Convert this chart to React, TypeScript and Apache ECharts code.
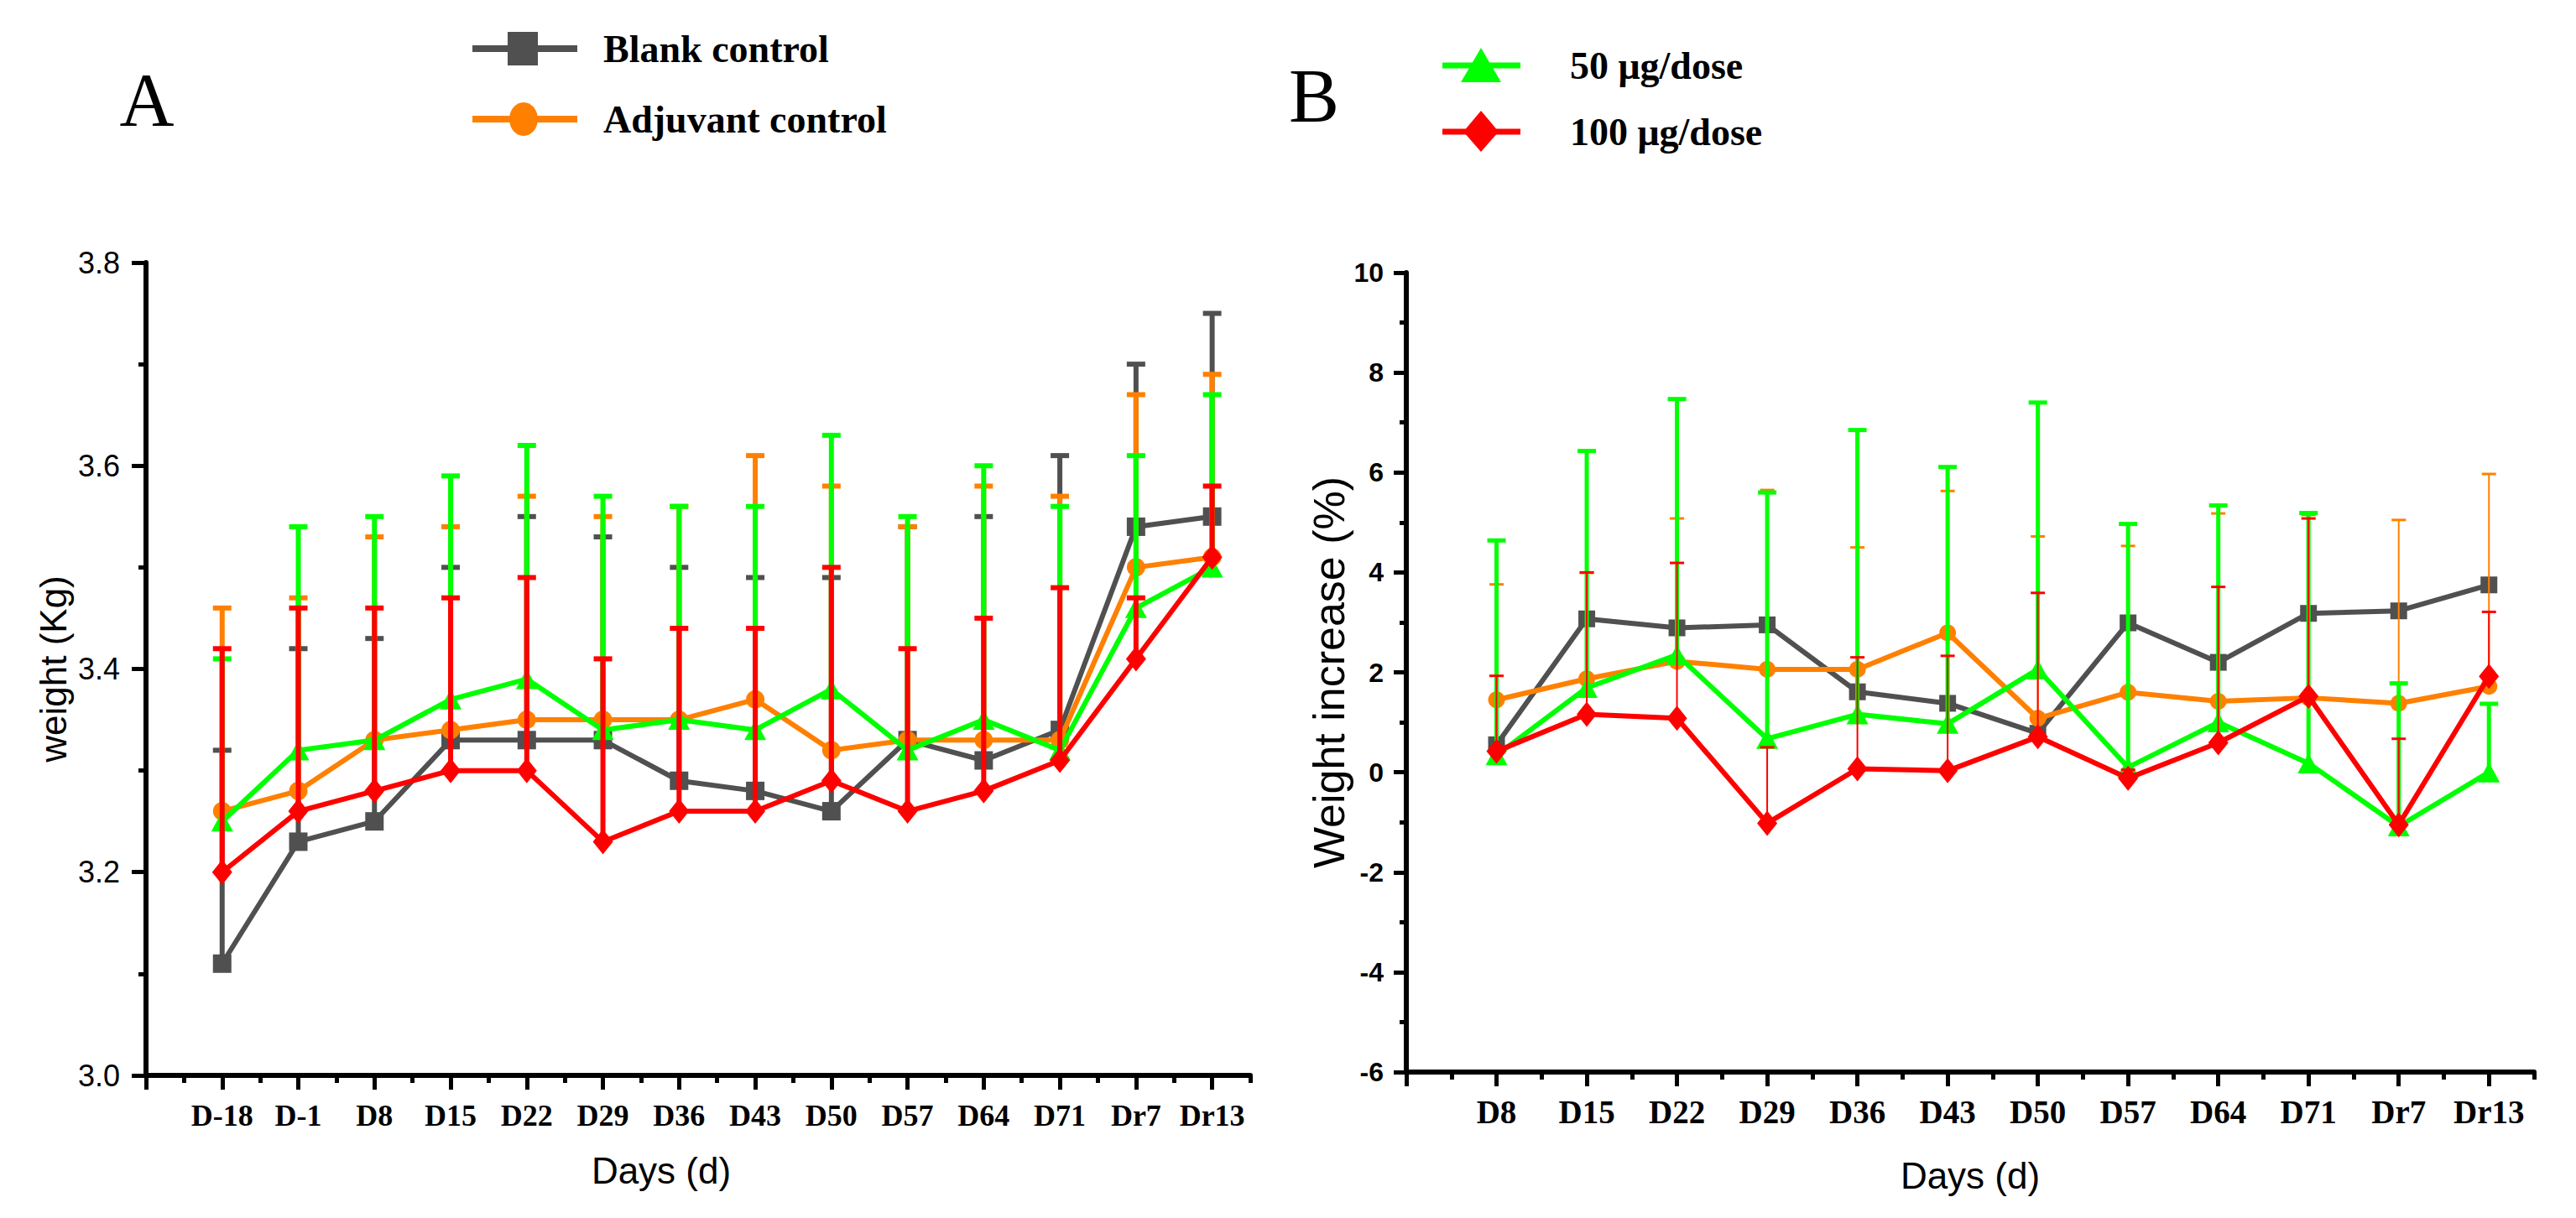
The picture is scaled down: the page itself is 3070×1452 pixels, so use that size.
import React, { useEffect, useRef } from 'react';
import * as echarts from 'echarts';

// ---------- Panel A data (weight, Kg) ----------
const catsA = ['D-18', 'D-1', 'D8', 'D15', 'D22', 'D29', 'D36', 'D43', 'D50', 'D57', 'D64', 'D71', 'Dr7', 'Dr13'];
const blankA = [3.11, 3.23, 3.25, 3.33, 3.33, 3.33, 3.29, 3.28, 3.26, 3.33, 3.31, 3.34, 3.54, 3.55];
const blankATop = [3.32, 3.42, 3.43, 3.50, 3.55, 3.53, 3.50, 3.49, 3.49, 3.54, 3.55, 3.61, 3.70, 3.75];
const adjA = [3.26, 3.28, 3.33, 3.34, 3.35, 3.35, 3.35, 3.37, 3.32, 3.33, 3.33, 3.33, 3.50, 3.51];
const adjATop = [3.46, 3.47, 3.53, 3.54, 3.57, 3.55, 3.56, 3.61, 3.58, 3.54, 3.58, 3.57, 3.67, 3.69];
const d50A = [3.25, 3.32, 3.33, 3.37, 3.39, 3.34, 3.35, 3.34, 3.38, 3.32, 3.35, 3.32, 3.46, 3.50];
const d50ATop = [3.41, 3.54, 3.55, 3.59, 3.62, 3.57, 3.56, 3.56, 3.63, 3.55, 3.60, 3.56, 3.61, 3.67];
const d100A = [3.20, 3.26, 3.28, 3.30, 3.30, 3.23, 3.26, 3.26, 3.29, 3.26, 3.28, 3.31, 3.41, 3.51];
const d100ATop = [3.42, 3.46, 3.46, 3.47, 3.49, 3.41, 3.44, 3.44, 3.50, 3.42, 3.45, 3.48, 3.47, 3.58];

// ---------- Panel B data (weight increase, %) ----------
const catsB = ['D8', 'D15', 'D22', 'D29', 'D36', 'D43', 'D50', 'D57', 'D64', 'D71', 'Dr7', 'Dr13'];
const blankB = [0.55, 3.07, 2.89, 2.95, 1.61, 1.38, 0.78, 2.99, 2.20, 3.18, 3.23, 3.75];
const adjB = [1.45, 1.87, 2.22, 2.06, 2.06, 2.79, 1.08, 1.60, 1.42, 1.49, 1.38, 1.72];
const adjBTop = [3.76, 3.99, 5.08, 5.65, 4.50, 5.63, 4.72, 4.53, 5.18, 5.15, 5.05, 5.97];
const d50B = [0.34, 1.69, 2.35, 0.67, 1.16, 0.97, 2.06, 0.10, 1.00, 0.18, -1.08, 0.00];
const d50BTop = [4.64, 6.43, 7.47, 5.60, 6.85, 6.11, 7.40, 4.97, 5.34, 5.19, 1.78, 1.37];
const d100B = [0.42, 1.16, 1.08, -1.02, 0.07, 0.03, 0.71, -0.12, 0.59, 1.52, -1.05, 1.92];
const d100BTop = [1.93, 4.00, 4.19, 0.50, 2.30, 2.33, 3.59, 0.05, 3.71, 5.08, 0.67, 3.21];

const yTicksA = [3.0, 3.2, 3.4, 3.6, 3.8];
const yTicksB = [-6, -4, -2, 0, 2, 4, 6, 8, 10];

const names = ['Blank control', 'Adjuvant control', '50 μg/dose', '100 μg/dose'];
const colors = ['#505050', '#FF8000', '#00FF00', '#FF0000'];

const SANS = '"Liberation Sans", Arial, sans-serif';
const SERIF = '"Liberation Serif", "Times New Roman", serif';

const errRender = (color: string, lw: number, cap: number, capLw: number) => (params: any, api: any) => {
  const x = api.value(0);
  const m = api.value(1);
  const t = api.value(2);
  const p0 = api.coord([x, m]);
  const p1 = api.coord([x, t]);
  return {
    type: 'group',
    children: [
      { type: 'line', shape: { x1: p0[0], y1: p0[1], x2: p1[0], y2: p1[1] }, style: { stroke: color, lineWidth: lw } },
      { type: 'line', shape: { x1: p1[0] - cap / 2, y1: p1[1], x2: p1[0] + cap / 2, y2: p1[1] }, style: { stroke: color, lineWidth: capLw } },
    ],
  };
};

export default function App() {
  const ref = useRef<HTMLDivElement>(null);

  useEffect(() => {
    if (!ref.current) return;
    const chart = echarts.init(ref.current, null, { renderer: 'svg' });

    const majorA = Array.from({ length: catsA.length + 1 }, (_, i) => i);
    const minorA = Array.from({ length: catsA.length + 1 }, (_, i) => i + 0.5);
    const majorB = Array.from({ length: catsB.length + 1 }, (_, i) => i);
    const minorB = Array.from({ length: catsB.length + 1 }, (_, i) => i + 0.5);

    const axisLine = { show: true, onZero: false, lineStyle: { color: '#000', width: 6 } };
    const hiddenLine = { show: false, onZero: false };
    const tickStyle = { color: '#000', width: 5 };

    const xBase = (grid: number, max: number) => ({
      type: 'value',
      gridIndex: grid,
      min: 0,
      max,
      position: 'bottom',
      splitLine: { show: false },
    });

    const mkLine = (grid: number, xs: number[], vals: number[], k: number, symbol: string, size: any) => ({
      type: 'line',
      name: names[k],
      xAxisIndex: grid === 0 ? 0 : 2,
      yAxisIndex: grid,
      data: vals.map((v, i) => [xs[i], v]),
      symbol,
      symbolSize: size,
      showSymbol: true,
      lineStyle: { color: colors[k], width: 6 },
      itemStyle: { color: colors[k] },
      z: 3 + 2 * k,
    });

    const mkErr = (grid: number, xs: number[], vals: number[], tops: number[], k: number, lw: number, cap: number, capLw: number) => ({
      type: 'custom',
      name: names[k] + ' err',
      xAxisIndex: grid === 0 ? 0 : 2,
      yAxisIndex: grid,
      data: vals.map((v, i) => [xs[i], v, tops[i]]),
      encode: { x: 0, y: [1, 2] },
      renderItem: errRender(colors[k], lw, cap, capLw),
      z: 2 + 2 * k,
    });

    const xsA = catsA.map((_, i) => i + 1);
    const xsB = catsB.map((_, i) => i + 1);

    const option: any = {
      animation: false,
      backgroundColor: '#fff',
      grid: [
        { left: 174, top: 313, width: 1316, height: 969 },
        { left: 1676, top: 325, width: 1344, height: 953 },
      ],
      xAxis: [
        {
          ...xBase(0, 14.5),
          axisLine,
          axisTick: { show: true, inside: false, length: 17, lineStyle: tickStyle, customValues: majorA },
          axisLabel: {
            show: true,
            customValues: xsA,
            formatter: (v: number) => catsA[Math.round(v) - 1] ?? '',
            fontFamily: SERIF,
            fontWeight: 'bold',
            fontSize: 36,
            color: '#000',
            margin: 30,
          },
          name: 'Days (d)',
          nameLocation: 'middle',
          nameGap: 91,
          nameTextStyle: { fontFamily: SANS, fontSize: 44, color: '#000', padding: [0, 88, 0, 0] },
        },
        {
          ...xBase(0, 14.5),
          axisLine: hiddenLine,
          axisTick: { show: true, inside: false, length: 9, lineStyle: tickStyle, customValues: minorA },
          axisLabel: { show: false },
        },
        {
          ...xBase(1, 12.5),
          axisLine,
          axisTick: { show: true, inside: false, length: 17, lineStyle: tickStyle, customValues: majorB },
          axisLabel: {
            show: true,
            customValues: xsB,
            formatter: (v: number) => catsB[Math.round(v) - 1] ?? '',
            fontFamily: SERIF,
            fontWeight: 'bold',
            fontSize: 39,
            color: '#000',
            margin: 28,
          },
          name: 'Days (d)',
          nameLocation: 'middle',
          nameGap: 101,
          nameTextStyle: { fontFamily: SANS, fontSize: 44, color: '#000' },
        },
        {
          ...xBase(1, 12.5),
          axisLine: hiddenLine,
          axisTick: { show: true, inside: false, length: 9, lineStyle: tickStyle, customValues: minorB },
          axisLabel: { show: false },
        },
      ],
      yAxis: [
        {
          type: 'value',
          gridIndex: 0,
          min: yTicksA[0],
          max: yTicksA[yTicksA.length - 1],
          interval: 0.2,
          axisLine,
          axisTick: { show: true, inside: false, length: 17, lineStyle: tickStyle },
          minorTick: { show: true, splitNumber: 2, length: 9, lineStyle: tickStyle },
          splitLine: { show: false },
          axisLabel: { formatter: (v: number) => v.toFixed(1), fontFamily: SANS, fontSize: 36, color: '#000', margin: 31 },
          name: 'weight (Kg)',
          nameLocation: 'middle',
          nameGap: 89,
          nameTextStyle: { fontFamily: SANS, fontSize: 44, color: '#000' },
        },
        {
          type: 'value',
          gridIndex: 1,
          min: yTicksB[0],
          max: yTicksB[yTicksB.length - 1],
          interval: 2,
          axisLine,
          axisTick: { show: true, inside: false, length: 15, lineStyle: tickStyle },
          minorTick: { show: true, splitNumber: 2, length: 8, lineStyle: tickStyle },
          splitLine: { show: false },
          axisLabel: { fontFamily: SANS, fontWeight: 'bold', fontSize: 32, color: '#000', margin: 27 },
          name: 'Weight increase (%)',
          nameLocation: 'middle',
          nameGap: 52,
          nameTextStyle: { fontFamily: SANS, fontSize: 52, color: '#000' },
        },
      ],
      series: [
        // Panel A
        mkErr(0, xsA, blankA, blankATop, 0, 6, 22, 6),
        mkLine(0, xsA, blankA, 0, 'rect', 22),
        mkErr(0, xsA, adjA, adjATop, 1, 6, 22, 6),
        mkLine(0, xsA, adjA, 1, 'circle', 22),
        mkErr(0, xsA, d50A, d50ATop, 2, 6, 22, 6),
        mkLine(0, xsA, d50A, 2, 'triangle', [26, 24]),
        mkErr(0, xsA, d100A, d100ATop, 3, 6, 22, 6),
        mkLine(0, xsA, d100A, 3, 'diamond', [24, 30]),
        // Panel B
        mkLine(1, xsB, blankB, 0, 'rect', 20),
        mkErr(1, xsB, adjB, adjBTop, 1, 2, 17, 3),
        mkLine(1, xsB, adjB, 1, 'circle', 20),
        mkErr(1, xsB, d50B, d50BTop, 2, 5, 22, 5),
        mkLine(1, xsB, d50B, 2, 'triangle', [26, 24]),
        mkErr(1, xsB, d100B, d100BTop, 3, 2, 17, 3),
        mkLine(1, xsB, d100B, 3, 'diamond', [24, 30]),
      ],
      graphic: [
        // Panel letters
        { type: 'text', style: { text: 'A', x: 175, y: 119, font: `90px ${SERIF}`, fill: '#000', textAlign: 'center', textVerticalAlign: 'middle', align: 'center', verticalAlign: 'middle' } },
        { type: 'text', style: { text: 'B', x: 1566, y: 114, font: `90px ${SERIF}`, fill: '#000', textAlign: 'center', textVerticalAlign: 'middle', align: 'center', verticalAlign: 'middle' } },
        // Legend A
        { type: 'line', shape: { x1: 563, y1: 58, x2: 688, y2: 58 }, style: { stroke: colors[0], lineWidth: 8 } },
        { type: 'rect', shape: { x: 605, y: 38, width: 36, height: 40 }, style: { fill: colors[0] } },
        { type: 'text', style: { text: names[0], x: 719, y: 58, font: `bold 46px ${SERIF}`, fill: '#000', textAlign: 'left', textVerticalAlign: 'middle', align: 'left', verticalAlign: 'middle' } },
        { type: 'line', shape: { x1: 563, y1: 142, x2: 688, y2: 142 }, style: { stroke: colors[1], lineWidth: 8 } },
        { type: 'ellipse', shape: { cx: 624, cy: 142, rx: 17, ry: 20 }, style: { fill: colors[1] } },
        { type: 'text', style: { text: names[1], x: 719, y: 142, font: `bold 46px ${SERIF}`, fill: '#000', textAlign: 'left', textVerticalAlign: 'middle', align: 'left', verticalAlign: 'middle' } },
        // Legend B
        { type: 'line', shape: { x1: 1719, y1: 78, x2: 1812, y2: 78 }, style: { stroke: colors[2], lineWidth: 7 } },
        { type: 'polygon', shape: { points: [[1765, 57], [1741, 98], [1789, 98]] }, style: { fill: colors[2] } },
        { type: 'text', style: { text: names[2], x: 1871, y: 78, font: `bold 46px ${SERIF}`, fill: '#000', textAlign: 'left', textVerticalAlign: 'middle', align: 'left', verticalAlign: 'middle' } },
        { type: 'line', shape: { x1: 1719, y1: 157, x2: 1812, y2: 157 }, style: { stroke: colors[3], lineWidth: 7 } },
        { type: 'polygon', shape: { points: [[1765, 132], [1786, 157], [1765, 181], [1744, 157]] }, style: { fill: colors[3] } },
        { type: 'text', style: { text: names[3], x: 1871, y: 157, font: `bold 46px ${SERIF}`, fill: '#000', textAlign: 'left', textVerticalAlign: 'middle', align: 'left', verticalAlign: 'middle' } },
      ],
    };

    chart.setOption(option);
    return () => chart.dispose();
  }, []);

  return (
    <div
      ref={ref}
      style={{ position: 'absolute', left: 0, top: 0, width: 3070, height: 1452, background: '#fff' }}
    />
  );
}
